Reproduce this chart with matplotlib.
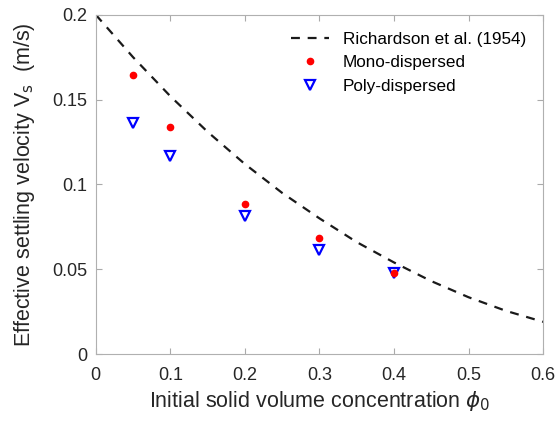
import matplotlib
matplotlib.use("Agg")
from matplotlib import pyplot as plt

plt.rcParams['font.family'] = ['Liberation Sans', 'DejaVu Sans']
plt.rcParams['mathtext.fontset'] = 'dejavusans'

# Richardson et al. curve
phi_curve = [0.0, 0.05, 0.1, 0.15, 0.2, 0.25, 0.3, 0.35, 0.4, 0.45, 0.5, 0.55, 0.6]
v_curve = [0.2, 0.175, 0.152, 0.131, 0.112, 0.095, 0.080, 0.066, 0.054, 0.043, 0.0335, 0.0255, 0.019]

phi = [0.05, 0.1, 0.2, 0.3, 0.4]
v_mono = [0.1646, 0.134, 0.0885, 0.0686, 0.0476]
v_poly = [0.1363, 0.117, 0.0814, 0.0614, 0.048]

fig = plt.figure(figsize=(5.57, 4.23), dpi=100)
ax = fig.add_axes([0.172, 0.163, 0.803, 0.802])

ax.plot(phi_curve, v_curve, '--', color='#1a1a1a', lw=1.6, dashes=(4, 3.5),
        label='Richardson et al. (1954)')
ax.plot(phi, v_poly, 'v', mfc='none', mec='blue', mew=1.6, ms=6.5, label='Poly-dispersed', zorder=2)
ax.plot(phi, v_mono, 'o', color='red', ms=4.5, label='Mono-dispersed', zorder=3)

ax.set_xlim(0, 0.6)
ax.set_ylim(0, 0.2)
ax.set_xticks([0, 0.1, 0.2, 0.3, 0.4, 0.5, 0.6])
ax.set_xticklabels(['0', '0.1', '0.2', '0.3', '0.4', '0.5', '0.6'])
ax.set_yticks([0, 0.05, 0.1, 0.15, 0.2])
ax.set_yticklabels(['0', '0.05', '0.1', '0.15', '0.2'])
ax.tick_params(direction='in', top=True, right=True, labelsize=13, colors='#aaaaaa',
               labelcolor='#262626', length=4, pad=6)
ax.tick_params(axis='x', pad=9)
for s in ax.spines.values():
    s.set_color('#b0b0b0')

ax.set_xlabel(r'Initial solid volume concentration $\phi_0$', fontsize=15.5,
              color='#262626', labelpad=4)
ax.set_ylabel(r'Effective settling velocity V$_\mathrm{s}$  (m/s)', fontsize=15.5,
              color='#262626', labelpad=11)

h, l = ax.get_legend_handles_labels()
order = [0, 2, 1]
ax.legend([h[i] for i in order], [l[i] for i in order], loc='upper right',
          frameon=False, fontsize=12.3, handlelength=2.2,
          borderaxespad=0.6, labelspacing=0.5)

fig.savefig('out.png', dpi=100)
